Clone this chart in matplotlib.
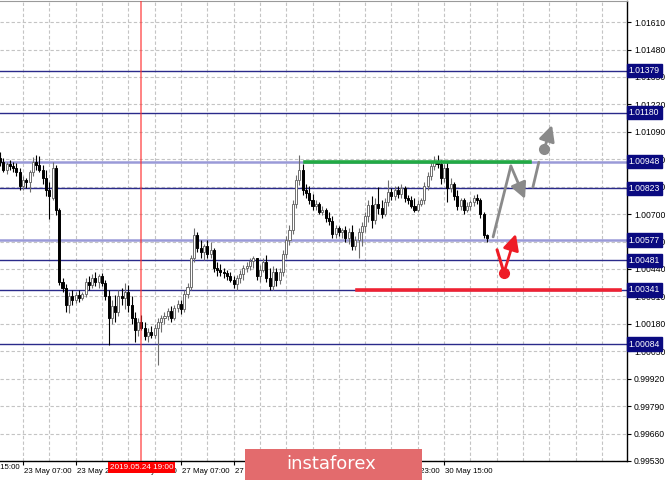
import matplotlib.pyplot as plt
from matplotlib.patches import Rectangle
import matplotlib.transforms as mtransforms

plt.rcParams['font.family'] = ['Liberation Sans', 'DejaVu Sans']

# hourly candles, bar 0 = 23 May 00:00
opens = [1.00965, 1.00946, 1.00909, 1.00937, 1.00928, 1.00918, 1.00899, 1.00833, 1.00861, 1.00852,
         1.00899, 1.00946, 1.00932, 1.00909, 1.00871, 1.00814, 1.00776, 1.00918, 1.00720, 1.00380,
         1.00351, 1.00271, 1.00314, 1.00295, 1.00318, 1.00304, 1.00323, 1.00380, 1.00366, 1.00399,
         1.00380, 1.00408, 1.00375, 1.00314, 1.00210, 1.00266, 1.00238, 1.00314, 1.00304, 1.00333,
         1.00271, 1.00210, 1.00153, 1.00191, 1.00162, 1.00124, 1.00143, 1.00129, 1.00162, 1.00191,
         1.00210, 1.00219, 1.00243, 1.00210, 1.00257, 1.00276, 1.00248, 1.00323, 1.00356, 1.00493,
         1.00602, 1.00540, 1.00521, 1.00550, 1.00512, 1.00531, 1.00446, 1.00436, 1.00427, 1.00422,
         1.00408, 1.00389, 1.00370, 1.00399, 1.00418, 1.00446, 1.00455, 1.00479, 1.00493, 1.00408,
         1.00436, 1.00474, 1.00399, 1.00361, 1.00427, 1.00389, 1.00427, 1.00512, 1.00578, 1.00625,
         1.00748, 1.00861, 1.00909, 1.00814, 1.00800, 1.00767, 1.00739, 1.00748, 1.00710, 1.00720,
         1.00682, 1.00668, 1.00606, 1.00635, 1.00616, 1.00625, 1.00588, 1.00616, 1.00550, 1.00578,
         1.00616, 1.00644, 1.00691, 1.00743, 1.00673, 1.00748, 1.00729, 1.00701, 1.00758, 1.00805,
         1.00786, 1.00814, 1.00795, 1.00824, 1.00776, 1.00767, 1.00739, 1.00720, 1.00748, 1.00767,
         1.00833, 1.00880, 1.00928, 1.00946, 1.00937, 1.00871, 1.00918, 1.00824, 1.00843, 1.00786,
         1.00739, 1.00767, 1.00720, 1.00739, 1.00758, 1.00776, 1.00767, 1.00701, 1.00602]
highs = [1.00994, 1.00965, 1.00946, 1.00956, 1.00946, 1.00942, 1.00918, 1.00880, 1.00871, 1.00909,
         1.00970, 1.00980, 1.00975, 1.00932, 1.00909, 1.00852, 1.00946, 1.00932, 1.00729, 1.00399,
         1.00370, 1.00333, 1.00342, 1.00333, 1.00342, 1.00333, 1.00399, 1.00408, 1.00418, 1.00427,
         1.00418, 1.00422, 1.00389, 1.00342, 1.00295, 1.00318, 1.00342, 1.00351, 1.00375, 1.00366,
         1.00314, 1.00238, 1.00210, 1.00224, 1.00191, 1.00162, 1.00172, 1.00177, 1.00210, 1.00224,
         1.00238, 1.00257, 1.00266, 1.00271, 1.00295, 1.00295, 1.00342, 1.00375, 1.00507, 1.00635,
         1.00616, 1.00578, 1.00559, 1.00578, 1.00569, 1.00540, 1.00474, 1.00465, 1.00446, 1.00436,
         1.00427, 1.00408, 1.00413, 1.00436, 1.00460, 1.00474, 1.00493, 1.00503, 1.00493, 1.00460,
         1.00493, 1.00507, 1.00446, 1.00455, 1.00446, 1.00446, 1.00531, 1.00597, 1.00649, 1.00767,
         1.00885, 1.00980, 1.00937, 1.00843, 1.00833, 1.00795, 1.00767, 1.00758, 1.00739, 1.00729,
         1.00710, 1.00691, 1.00649, 1.00644, 1.00635, 1.00644, 1.00635, 1.00649, 1.00597, 1.00635,
         1.00663, 1.00710, 1.00767, 1.00786, 1.00776, 1.00828, 1.00767, 1.00776, 1.00861, 1.00824,
         1.00833, 1.00833, 1.00843, 1.00833, 1.00791, 1.00786, 1.00776, 1.00767, 1.00776, 1.00852,
         1.00899, 1.00946, 1.00975, 1.00980, 1.00956, 1.00937, 1.00946, 1.00871, 1.00852, 1.00814,
         1.00776, 1.00776, 1.00758, 1.00767, 1.00791, 1.00795, 1.00776, 1.00710, 1.00606]
lows = [1.00928, 1.00899, 1.00890, 1.00909, 1.00899, 1.00880, 1.00814, 1.00814, 1.00824, 1.00805,
        1.00880, 1.00909, 1.00899, 1.00843, 1.00786, 1.00677, 1.00767, 1.00696, 1.00366, 1.00333,
        1.00238, 1.00233, 1.00271, 1.00281, 1.00285, 1.00295, 1.00309, 1.00342, 1.00351, 1.00361,
        1.00351, 1.00361, 1.00295, 1.00082, 1.00177, 1.00191, 1.00219, 1.00271, 1.00248, 1.00238,
        1.00177, 1.00096, 1.00124, 1.00153, 1.00105, 1.00096, 1.00115, 1.00115, 0.99987, 1.00143,
        1.00177, 1.00200, 1.00191, 1.00200, 1.00238, 1.00229, 1.00238, 1.00304, 1.00342, 1.00474,
        1.00521, 1.00493, 1.00484, 1.00493, 1.00493, 1.00427, 1.00408, 1.00408, 1.00399, 1.00389,
        1.00380, 1.00351, 1.00342, 1.00375, 1.00389, 1.00427, 1.00436, 1.00446, 1.00389, 1.00380,
        1.00427, 1.00380, 1.00342, 1.00342, 1.00361, 1.00370, 1.00408, 1.00493, 1.00554, 1.00606,
        1.00729, 1.00838, 1.00791, 1.00776, 1.00748, 1.00720, 1.00720, 1.00701, 1.00696, 1.00663,
        1.00649, 1.00588, 1.00588, 1.00597, 1.00588, 1.00569, 1.00559, 1.00531, 1.00531, 1.00493,
        1.00550, 1.00616, 1.00663, 1.00635, 1.00654, 1.00701, 1.00682, 1.00691, 1.00739, 1.00767,
        1.00767, 1.00776, 1.00776, 1.00758, 1.00748, 1.00729, 1.00710, 1.00710, 1.00739, 1.00748,
        1.00814, 1.00861, 1.00909, 1.00918, 1.00843, 1.00852, 1.00758, 1.00805, 1.00767, 1.00720,
        1.00720, 1.00701, 1.00710, 1.00720, 1.00739, 1.00748, 1.00682, 1.00588, 1.00569]
closes = [1.00946, 1.00909, 1.00937, 1.00928, 1.00918, 1.00899, 1.00833, 1.00861, 1.00852, 1.00899,
          1.00946, 1.00932, 1.00909, 1.00871, 1.00814, 1.00786, 1.00918, 1.00720, 1.00380, 1.00351,
          1.00271, 1.00314, 1.00295, 1.00318, 1.00304, 1.00323, 1.00380, 1.00366, 1.00399, 1.00380,
          1.00408, 1.00375, 1.00314, 1.00210, 1.00266, 1.00238, 1.00314, 1.00304, 1.00333, 1.00271,
          1.00210, 1.00153, 1.00191, 1.00162, 1.00124, 1.00143, 1.00129, 1.00162, 1.00191, 1.00210,
          1.00219, 1.00243, 1.00210, 1.00257, 1.00276, 1.00248, 1.00323, 1.00356, 1.00493, 1.00602,
          1.00540, 1.00521, 1.00550, 1.00512, 1.00531, 1.00446, 1.00436, 1.00427, 1.00422, 1.00408,
          1.00389, 1.00370, 1.00399, 1.00418, 1.00446, 1.00455, 1.00479, 1.00493, 1.00408, 1.00436,
          1.00474, 1.00399, 1.00361, 1.00427, 1.00389, 1.00427, 1.00512, 1.00578, 1.00625, 1.00748,
          1.00861, 1.00909, 1.00814, 1.00800, 1.00767, 1.00739, 1.00748, 1.00710, 1.00720, 1.00682,
          1.00668, 1.00606, 1.00635, 1.00616, 1.00625, 1.00588, 1.00616, 1.00550, 1.00578, 1.00616,
          1.00644, 1.00691, 1.00743, 1.00673, 1.00748, 1.00729, 1.00701, 1.00758, 1.00805, 1.00786,
          1.00814, 1.00795, 1.00824, 1.00776, 1.00767, 1.00739, 1.00720, 1.00748, 1.00767, 1.00833,
          1.00880, 1.00928, 1.00946, 1.00937, 1.00871, 1.00918, 1.00824, 1.00843, 1.00786, 1.00739,
          1.00767, 1.00720, 1.00739, 1.00758, 1.00776, 1.00767, 1.00701, 1.00602, 1.00588]

price_ticks = [0.99530, 0.99660, 0.99790, 0.99920, 1.00050, 1.00180, 1.00310, 1.00440, 1.00570,
               1.00700, 1.00830, 1.00960, 1.01090, 1.01220, 1.01350, 1.01480, 1.01610]
time_ticks = [7, 23, 39, 55, 71, 87, 103, 119, 135]
time_labels = ['23 May 07:00', '23 May 23:00', '24 May 15:00', '27 May 07:00', '27 May 23:00',
               '28 May 15:00', '29 May 07:00', '29 May 23:00', '30 May 15:00']
grid_x = [-1, 7, 15, 23, 31, 39, 47, 55, 63, 71, 79, 87, 95, 103, 111, 119, 127, 135, 143,
          151, 159, 167, 175, 183]
first_label = (-9, '22 May 15:00')

levels = [1.01379, 1.01180, 1.00948, 1.00823, 1.00577, 1.00481, 1.00341, 1.00084]
level_soft = [False, False, True, False, True, False, False, False]

marked_bar = 43
marked_label = '2019.05.24 19:00'

resistance = (1.00948, 92.7, 161.0)
support = (1.00341, 108.5, 188.5)

gray_zigzag = [(149.9, 1.00592), (155.3, 1.00928)]
gray_arrow1 = [(155.3, 1.00928), (159.6, 1.00772)]
gray_leg = [(162.0, 1.00828), (163.8, 1.00946)]
gray_arrow2 = [(165.4, 1.01008), (167.8, 1.01122)]
red_leg = [(151.1, 1.00531), (153.2, 1.00422)]
red_arrow = [(153.2, 1.00422), (156.8, 1.00606)]

fig = plt.figure(figsize=(6.65, 4.8), dpi=100)
ax = fig.add_axes([0, 19 / 480, 627 / 665, 460 / 480])
ax.set_xlim(0.0, 190.6)
ax.set_ylim(0.99530, 1.01710)

# grid
for gx in grid_x:
    ax.axvline(gx, color='#c4c4c4', lw=0.8, ls=(0, (3, 2)), zorder=0)
for py in price_ticks:
    ax.axhline(py, color='#c4c4c4', lw=0.8, ls=(0, (3, 2)), zorder=0)

# candles
for i in range(len(opens)):
    o, h, l, c = opens[i], highs[i], lows[i], closes[i]
    bull = c >= o
    col = '#6e6e6e' if bull else 'black'
    ax.vlines(i, l, h, color=col, lw=0.8, zorder=3)
    body = max(abs(c - o), 0.00002)
    ax.bar(i, body, bottom=min(o, c), width=0.62,
           color='white' if bull else 'black', edgecolor=col, lw=0.7, zorder=4)

# horizontal levels
for lv, soft in zip(levels, level_soft):
    if soft:
        ax.axhline(lv, color='#9a9ad8', lw=1.8, zorder=2)
    else:
        ax.axhline(lv, color='#2a2a8a', lw=1.0, zorder=2)

ax.axvline(marked_bar, color='#ff3030', lw=1.3, alpha=0.65, zorder=5)

ax.plot([resistance[1], resistance[2]], [resistance[0]] * 2, color='#22aa44', lw=2.6, zorder=6)
ax.plot([support[1], support[2]], [support[0]] * 2, color='#ee2233', lw=2.6, zorder=6)

# forecast arrows
gcol = '#8a8a8a'
rcol = '#ee1c25'
ax.plot(*zip(*gray_zigzag), color=gcol, lw=2.0, zorder=7, solid_capstyle='round')
ax.plot(*zip(*gray_leg), color=gcol, lw=2.0, zorder=7, solid_capstyle='round')
ax.plot(*zip(*red_leg), color=rcol, lw=2.2, zorder=7, solid_capstyle='round')
for seg, col in [(gray_arrow1, gcol), (gray_arrow2, gcol), (red_arrow, rcol)]:
    ax.annotate('', xy=seg[1], xytext=seg[0], zorder=8,
                arrowprops=dict(arrowstyle='-|>,head_length=0.8,head_width=0.4',
                                color=col, lw=2.0, mutation_scale=12,
                                shrinkA=0, shrinkB=0))
ax.plot(*gray_arrow2[0], 'o', color=gcol, ms=7, zorder=8)
ax.plot(*red_arrow[0], 'o', color=rcol, ms=7, zorder=8)

# axes styling
ax.yaxis.tick_right()
ax.set_yticks(price_ticks)
ax.set_yticklabels(['%.5f' % p for p in price_ticks], fontsize=6.2)
ax.set_xticks(time_ticks)
ax.set_xticklabels(time_labels, fontsize=5.7, ha='left')
ax.tick_params(axis='y', length=3, pad=2, width=0.8)
ax.tick_params(axis='x', length=3, pad=2, width=0.8)
offset = mtransforms.ScaledTranslation(1 / 100, 0, fig.dpi_scale_trans)
for lab in ax.get_xticklabels():
    lab.set_transform(lab.get_transform() + offset)
ax.spines['left'].set_visible(False)
ax.spines['top'].set_color('#9a9a9a')
ax.spines['right'].set_linewidth(1.0)
ax.spines['bottom'].set_linewidth(1.0)

xtrans = mtransforms.blended_transform_factory(ax.transData, ax.transAxes)
ytrans = mtransforms.blended_transform_factory(ax.transAxes, ax.transData)
ax.text(first_label[0] + 0.4, -0.0065, first_label[1], transform=xtrans, fontsize=5.7,
        ha='left', va='top', clip_on=False)
ax.text(marked_bar, -0.0065, marked_label, transform=xtrans, fontsize=5.9, color='white',
        ha='center', va='top', zorder=10, clip_on=False,
        bbox=dict(boxstyle='square,pad=0.2', fc='#ff0000', ec='none'))

for lv in levels:
    ax.text(1.003, lv, '%.5f' % lv, transform=ytrans, fontsize=6.2, color='white',
            ha='left', va='center', zorder=10, clip_on=False,
            bbox=dict(boxstyle='square,pad=0.25', fc='#0a0a80', ec='#0a0a80'))

# logo
fig.patches.append(Rectangle((245 / 665, 0), 177 / 665, 31 / 480, transform=fig.transFigure,
                             fc='#e36b6d', ec='none', zorder=20))
fig.text(331 / 665, 16 / 480, 'instaforex', color='white', fontsize=13, ha='center',
         va='center', zorder=21, family='DejaVu Sans')

fig.savefig('out.png', dpi=100)
